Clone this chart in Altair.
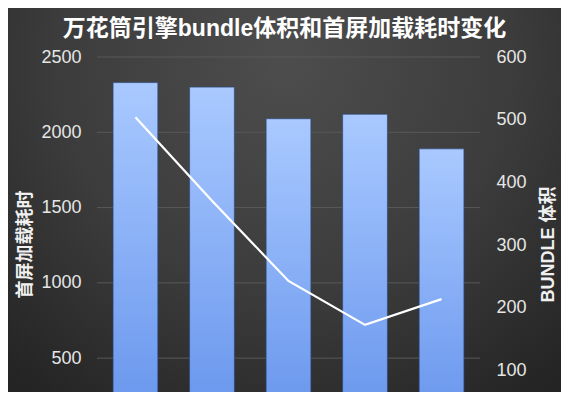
import altair as alt
import pandas as pd

# ---- data ----
releases = ["1", "2", "3", "4", "5"]
load_ms = [2330, 2300, 2090, 2120, 1890]      # 首屏加载耗时 (left axis)
bundle_kb = [504, 371, 243, 173, 214]          # BUNDLE 体积 (right axis)
left_ticks = [500, 1000, 1500, 2000, 2500]
right_ticks = [100, 200, 300, 400, 500, 600]
left_domain = [275, 2500]     # visible part of the axis (chart is cut at the bottom)
right_domain = [66, 600]

TITLE = "万花筒引擎bundle体积和首屏加载耗时变化"
LEFT_TITLE = "首屏加载耗时"
RIGHT_TITLE = "BUNDLE 体积"

FONT = "Liberation Sans, Arial, Noto Sans CJK SC, sans-serif"
LABEL_COLOR = "#e6e6e6"

df = pd.DataFrame({"release": releases, "load": load_ms, "bundle": bundle_kb})
ticks_df = pd.DataFrame({"tick": left_ticks})

W, H = 383, 335
PAD = {"left": 89, "top": 49, "right": 81, "bottom": 0}

bg_grad = {
    "gradient": "radial",
    "x1": 0.5, "y1": 0.25, "r1": 0.0,
    "x2": 0.5, "y2": 0.25, "r2": 0.75,
    "stops": [
        {"offset": 0.0, "color": "#4d4d4d"},
        {"offset": 0.55, "color": "#3c3c3c"},
        {"offset": 1.0, "color": "#242424"},
    ],
}

bar_grad = {
    "gradient": "linear",
    "x1": 0, "y1": 0, "x2": 0, "y2": 1,
    "stops": [
        {"offset": 0.0, "color": "#a9c9ff"},
        {"offset": 1.0, "color": "#6593ec"},
    ],
}

x_scale = alt.Scale(paddingInner=0.415, paddingOuter=0.21)
left_scale = alt.Scale(domain=left_domain, zero=False, nice=False)
right_scale = alt.Scale(domain=right_domain, zero=False, nice=False)

bg = alt.Chart(pd.DataFrame({"a": [0]})).mark_rect(fill=bg_grad).encode(
    x=alt.value(-PAD["left"]),
    x2=alt.value(W + PAD["right"]),
    y=alt.value(-PAD["top"]),
    y2=alt.value(H),
)

grid = alt.Chart(ticks_df).mark_rule(color="#595959", strokeWidth=1).encode(
    y=alt.Y("tick:Q", scale=left_scale, axis=None)
)

bars = alt.Chart(df).mark_bar(
    fill=bar_grad, stroke="#2d4a7a", strokeWidth=1, strokeOpacity=0.7, clip=True
).encode(
    x=alt.X("release:N", sort=None, axis=None, scale=x_scale),
    y=alt.Y(
        "load:Q",
        scale=left_scale,
        axis=alt.Axis(
            orient="left",
            values=left_ticks,
            format="d",
            grid=False,
            domain=False,
            ticks=False,
            zindex=2,
            labelFontSize=18,
            labelColor=LABEL_COLOR,
            labelFont=FONT,
            labelPadding=16,
            title=LEFT_TITLE,
            titleFont=FONT,
            titleFontSize=18,
            titleFontWeight="bold",
            titleColor="#f0f0f0",
            titleAngle=270,
            titleAlign="center",
            titleBaseline="middle",
            titleX=-72,
            titleY=187,
        ),
    ),
    y2=alt.Y2(datum=0),
)

line = alt.Chart(df).mark_line(color="#ffffff", strokeWidth=2.2).encode(
    x=alt.X("release:N", sort=None, axis=None, scale=x_scale, bandPosition=0.5),
    y=alt.Y(
        "bundle:Q",
        scale=right_scale,
        axis=alt.Axis(
            orient="right",
            values=right_ticks,
            format="d",
            grid=False,
            domain=False,
            ticks=False,
            zindex=2,
            labelFontSize=18,
            labelColor=LABEL_COLOR,
            labelFont=FONT,
            labelPadding=16,
            title=RIGHT_TITLE,
            titleFont=FONT,
            titleFontSize=18,
            titleFontWeight="bold",
            titleColor="#f0f0f0",
            titleAngle=270,
            titleAlign="center",
            titleBaseline="middle",
            titleX=68,
            titleY=187,
        ),
    ),
)

chart = (
    alt.layer(bg, grid, bars, line)
    .resolve_scale(y="independent")
    .resolve_axis(y="independent")
    .properties(
        width=W,
        height=H,
        padding=PAD,
        autosize="none",
        background="#2a2a2a",
        title=alt.TitleParams(
            text=TITLE,
            fontSize=23,
            fontWeight="bold",
            color="#ffffff",
            font=FONT,
            anchor="middle",
            frame="group",
            baseline="bottom",
            offset=-56,
            dx=-4,
            zindex=2,
        ),
    )
    .configure_view(stroke=None)
)

chart.save("out.html", embed_options={"renderer": "svg", "actions": False})
